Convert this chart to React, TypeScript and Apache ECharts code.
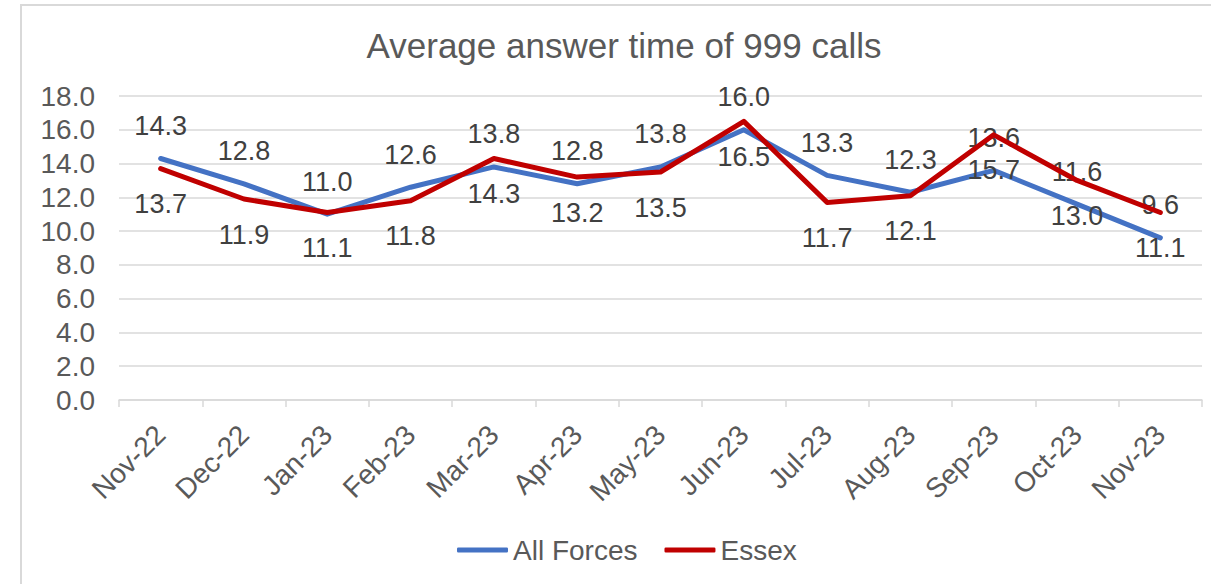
import React, { useEffect, useRef } from "react";
import * as echarts from "echarts";

const categories = ["Nov-22", "Dec-22", "Jan-23", "Feb-23", "Mar-23", "Apr-23", "May-23", "Jun-23", "Jul-23", "Aug-23", "Sep-23", "Oct-23", "Nov-23"];
const allForces = [14.3, 12.8, 11.0, 12.6, 13.8, 12.8, 13.8, 16.0, 13.3, 12.3, 13.6, 11.6, 9.6];
const essex = [13.7, 11.9, 11.1, 11.8, 14.3, 13.2, 13.5, 16.5, 11.7, 12.1, 15.7, 13.0, 11.1];
const titleText = "Average answer time of 999 calls";

const FONT = "'Liberation Sans', Arial, sans-serif";
const AXIS_GRAY = "#595959";
const LINE_GRAY = "#d9d9d9";

export default function App() {
  const ref = useRef<HTMLDivElement>(null);
  useEffect(() => {
    if (!ref.current) return;
    const chart = echarts.init(ref.current, null, { renderer: "svg" });
    chart.setOption({
      animation: false,
      backgroundColor: "#ffffff",
      textStyle: { fontFamily: FONT },
      graphic: [
        {
          type: "rect",
          shape: { x: 21, y: 5, width: 1300, height: 700 },
          style: { fill: "none", stroke: LINE_GRAY, lineWidth: 2 },
          silent: true,
        },
        {
          type: "text",
          x: 624,
          y: 45,
          style: {
            text: titleText,
            fontSize: 35,
            fontFamily: FONT,
            fill: AXIS_GRAY,
            align: "center",
            verticalAlign: "middle",
          },
        },
      ],
      legend: {
        left: 452,
        top: 531,
        itemWidth: 51,
        itemHeight: 5,
        itemGap: 27,
        icon: "roundRect",
        textStyle: { fontSize: 28, color: AXIS_GRAY, fontFamily: FONT },
        data: ["All Forces", "Essex"],
      },
      grid: { left: 119, right: 9, top: 96, bottom: 184, containLabel: false },
      xAxis: {
        type: "category",
        data: categories,
        boundaryGap: true,
        axisLine: { lineStyle: { color: LINE_GRAY, width: 1.5 } },
        axisTick: { show: true, length: 7, lineStyle: { color: LINE_GRAY, width: 1.5 } },
        axisLabel: {
          rotate: 45,
          interval: 0,
          margin: 30,
          fontSize: 28,
          color: AXIS_GRAY,
          fontFamily: FONT,
        },
      },
      yAxis: {
        type: "value",
        min: 0,
        max: 18,
        interval: 2,
        axisLine: { show: false },
        axisTick: { show: false },
        splitLine: { lineStyle: { color: LINE_GRAY, width: 1.5 } },
        axisLabel: {
          margin: 24,
          fontSize: 28,
          color: AXIS_GRAY,
          fontFamily: FONT,
          formatter: (v: number) => v.toFixed(1),
        },
      },
      series: [
        {
          name: "All Forces",
          type: "line",
          data: allForces,
          symbol: "circle",
          symbolSize: 0.1,
          showSymbol: true,
          lineStyle: { color: "#4472C4", width: 5, cap: "round", join: "round" },
          itemStyle: { color: "#4472C4" },
          label: {
            show: true,
            position: "top",
            distance: 19,
            fontSize: 27,
            color: "#404040",
            fontFamily: FONT,
            formatter: (p: any) => Number(p.value).toFixed(1),
          },
          z: 2,
        },
        {
          name: "Essex",
          type: "line",
          data: essex,
          symbol: "circle",
          symbolSize: 0.1,
          showSymbol: true,
          lineStyle: { color: "#C00000", width: 5, cap: "round", join: "round" },
          itemStyle: { color: "#C00000" },
          label: {
            show: true,
            position: "bottom",
            distance: 22,
            fontSize: 27,
            color: "#404040",
            fontFamily: FONT,
            formatter: (p: any) => Number(p.value).toFixed(1),
          },
          z: 3,
        },
      ],
    });
    return () => chart.dispose();
  }, []);
  return (
    <div
      ref={ref}
      style={{ position: "fixed", left: 0, top: 0, width: 1211, height: 584, background: "#fff" }}
    />
  );
}
